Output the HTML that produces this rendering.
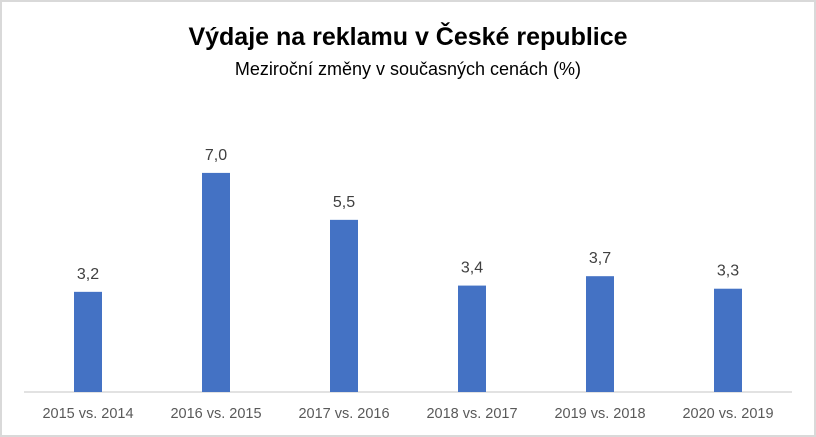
<!DOCTYPE html>
<html><head><meta charset="utf-8"><style>
body{margin:0;background:#fff}
svg{display:block;font-family:"Liberation Sans",sans-serif}
</style></head><body>
<svg id="c" width="816" height="437">
<rect x="1" y="1" width="814" height="435" fill="#fff" stroke="#d9d9d9" stroke-width="2"/>
<text x="408" y="45" text-anchor="middle" font-size="25" font-weight="bold" fill="#000">Výdaje na reklamu v České republice</text>
<text x="408" y="75" text-anchor="middle" font-size="18" fill="#000">Meziroční změny v současných cenách (%)</text>
<line x1="24" y1="392" x2="792" y2="392" stroke="#d9d9d9" stroke-width="1.5"/>
<g id="bars"></g>
</svg>
<script>
const categories=["2015 vs. 2014","2016 vs. 2015","2017 vs. 2016","2018 vs. 2017","2019 vs. 2018","2020 vs. 2019"];
const values=[3.2,7.0,5.5,3.4,3.7,3.3];
const valueLabels=["3,2","7,0","5,5","3,4","3,7","3,3"];
const left=24,right=792,base=392,pxPerUnit=31.3,bw=28;
const step=(right-left)/categories.length;
const xc=i=>left+step*(i+0.5);
const y=v=>base-v*pxPerUnit;
const g=document.getElementById('bars');
const ns="http://www.w3.org/2000/svg";
categories.forEach((c,i)=>{
  const r=document.createElementNS(ns,'rect');
  
  
  r.setAttribute('x',xc(i)-bw/2);r.setAttribute('y',y(values[i]));
  r.setAttribute('width',bw);r.setAttribute('height',base-y(values[i]));
  r.setAttribute('fill','#4472c4');g.appendChild(r);
  const t=document.createElementNS(ns,'text');
  
  
  t.setAttribute('x',xc(i));t.setAttribute('y',y(values[i])-13);
  t.setAttribute('text-anchor','middle');t.setAttribute('font-size','16');t.setAttribute('fill','#404040');
  t.textContent=valueLabels[i];g.appendChild(t);
  const l=document.createElementNS(ns,'text');
  
  
  l.setAttribute('x',xc(i));l.setAttribute('y',418);
  l.setAttribute('text-anchor','middle');l.setAttribute('font-size','14.5');l.setAttribute('fill','#595959');
  l.textContent=c;g.appendChild(l);
});
</script>
</body></html>
